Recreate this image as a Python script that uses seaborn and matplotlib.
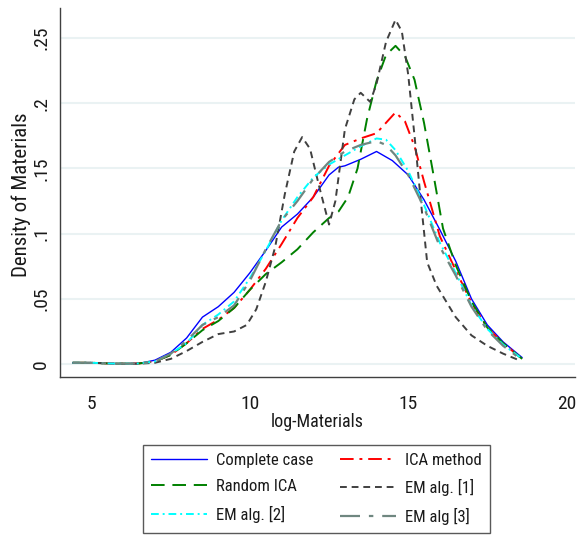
import matplotlib
matplotlib.use("Agg")
import matplotlib.pyplot as plt
import seaborn as sns

sns.set_style("white")
plt.rcParams['font.family'] = ['Roboto Condensed', 'Liberation Sans', 'DejaVu Sans']

# ---- data ----
x_cc = [4.4, 5, 5.5, 6, 6.5, 7, 7.5, 8, 8.5, 9, 9.5, 10, 10.5, 11, 11.5, 12, 12.5, 12.8, 13, 13.5, 14, 14.5, 15, 15.5, 16, 16.5, 17, 17.5, 18, 18.6]
y_cc = [0.001, 0.001, 0.0005, 0.0003, 0.0005, 0.003, 0.009, 0.020, 0.036, 0.044, 0.055, 0.070, 0.087, 0.105, 0.115, 0.128, 0.145, 0.151, 0.152, 0.157, 0.163, 0.156, 0.145, 0.126, 0.103, 0.079, 0.050, 0.030, 0.017, 0.005]

x_ica = [4.4, 5, 5.5, 6, 6.5, 7, 7.5, 8, 8.5, 9, 9.5, 10, 10.5, 11, 11.5, 12, 12.5, 13, 13.5, 14, 14.3, 14.6, 14.9, 15.2, 15.5, 16, 16.5, 17, 17.5, 18, 18.6]
y_ica = [0.001, 0.001, 0.0005, 0.0003, 0.0005, 0.002, 0.007, 0.016, 0.027, 0.034, 0.043, 0.057, 0.073, 0.092, 0.112, 0.128, 0.152, 0.168, 0.173, 0.177, 0.185, 0.193, 0.186, 0.167, 0.140, 0.098, 0.072, 0.047, 0.028, 0.016, 0.004]

x_rica = [4.4, 5, 5.5, 6, 6.5, 7, 7.5, 8, 8.5, 9, 9.5, 10, 10.5, 11, 11.5, 12, 12.5, 12.8, 13.1, 13.4, 13.7, 14, 14.3, 14.6, 14.9, 15.2, 15.5, 15.8, 16.1, 16.5, 17, 17.5, 18, 18.6]
y_rica = [0.001, 0.001, 0.0005, 0.0003, 0.0005, 0.002, 0.007, 0.016, 0.026, 0.033, 0.043, 0.057, 0.069, 0.078, 0.088, 0.101, 0.112, 0.117, 0.128, 0.150, 0.188, 0.217, 0.237, 0.244, 0.236, 0.218, 0.185, 0.145, 0.104, 0.076, 0.048, 0.028, 0.016, 0.004]

x_em1 = [4.4, 5, 5.5, 6, 6.5, 7, 7.5, 8, 8.5, 9, 9.5, 9.9, 10.2, 10.5, 10.8, 11.1, 11.4, 11.65, 11.9, 12.2, 12.5, 12.7, 13.0, 13.3, 13.5, 13.8, 14.0, 14.3, 14.6, 14.8, 15.0, 15.2, 15.4, 15.6, 15.9, 16.2, 16.5, 17, 17.5, 18, 18.5]
y_em1 = [0.001, 0.001, 0.0005, 0.0003, 0.0003, 0.001, 0.004, 0.010, 0.017, 0.023, 0.025, 0.030, 0.042, 0.063, 0.090, 0.130, 0.163, 0.174, 0.165, 0.135, 0.107, 0.125, 0.180, 0.203, 0.208, 0.201, 0.215, 0.247, 0.264, 0.255, 0.222, 0.175, 0.125, 0.078, 0.060, 0.048, 0.036, 0.022, 0.014, 0.008, 0.003]

x_em2 = [4.4, 5, 5.5, 6, 6.5, 7, 7.5, 8, 8.5, 9, 9.5, 10, 10.5, 11, 11.5, 12, 12.5, 13, 13.5, 14, 14.3, 14.6, 15, 15.5, 16, 16.5, 17, 17.5, 18, 18.6]
y_em2 = [0.001, 0.001, 0.0005, 0.0003, 0.0005, 0.002, 0.008, 0.016, 0.030, 0.038, 0.048, 0.066, 0.087, 0.110, 0.128, 0.143, 0.153, 0.160, 0.167, 0.173, 0.172, 0.164, 0.148, 0.122, 0.093, 0.070, 0.045, 0.027, 0.015, 0.004]

x_em3 = [4.4, 5, 5.5, 6, 6.5, 7, 7.5, 8, 8.5, 9, 9.5, 10, 10.5, 11, 11.5, 12, 12.5, 13, 13.5, 14, 14.3, 14.6, 15, 15.5, 16, 16.5, 17, 17.5, 18, 18.6]
y_em3 = [0.001, 0.001, 0.0005, 0.0003, 0.0005, 0.002, 0.008, 0.018, 0.030, 0.036, 0.045, 0.064, 0.088, 0.110, 0.125, 0.142, 0.155, 0.163, 0.168, 0.171, 0.168, 0.160, 0.145, 0.120, 0.090, 0.068, 0.044, 0.026, 0.014, 0.003]

labels = ["Complete case", "ICA method", "Random ICA", "EM alg. [1]", "EM alg. [2]", "EM alg [3]"]
x_ticks = [5, 10, 15, 20]
y_ticks = [0, 0.05, 0.1, 0.15, 0.2, 0.25]
y_ticklabels = ["0", ".05", ".1", ".15", ".2", ".25"]

# ---- figure ----
fig = plt.figure(figsize=(5.82, 5.35), dpi=100)
ax = fig.add_axes([60/582, 1-377/535, (575-60)/582, (377-8)/535])

series = [
    (x_cc, y_cc, labels[0], "#0000FF", "-", 1.0),
    (x_ica, y_ica, labels[1], "#FF0000", (0, (7, 3, 1.5, 3)), 1.4),
    (x_rica, y_rica, labels[2], "#008000", (0, (7, 4)), 1.4),
    (x_em1, y_em1, labels[3], "#404040", (0, (3.5, 2.5)), 1.4),
    (x_em2, y_em2, labels[4], "#00FFFF", (0, (4, 2, 1, 2)), 1.4),
    (x_em3, y_em3, labels[5], "#6F8780", (0, (9, 4, 2, 4)), 1.6),
]

handles = []
for xs, ys, lab, col, ls, lw in series:
    sns.lineplot(x=xs, y=ys, ax=ax, color=col, linewidth=lw, label=lab, sort=False)
    ln = ax.lines[-1]
    ln.set_linestyle(ls)
    handles.append(ln)

ax.set_xlim(4.0, 20.27)
ax.set_ylim(-0.0099, 0.273)
ax.set_xticks(x_ticks)
ax.set_yticks(y_ticks)
ax.set_yticklabels(y_ticklabels, rotation=90, va="center")
ax.tick_params(axis="both", direction="out", length=6, width=1, color="#404040",
               labelsize=14, labelcolor="#1a1a1a")
ax.tick_params(axis="x", pad=7)
ax.tick_params(axis="y", pad=1)

ax.yaxis.grid(True, color="#EAF2F3", linewidth=1.5)
ax.xaxis.grid(False)
ax.set_axisbelow(True)
for s in ["top", "right"]:
    ax.spines[s].set_visible(False)
for s in ["left", "bottom"]:
    ax.spines[s].set_color("#404040")
    ax.spines[s].set_linewidth(1.0)

ax.set_xlabel("log-Materials", fontsize=13, color="#1a1a1a")
ax.xaxis.set_label_coords(0.5, (377 - 413) / 369)
ax.set_ylabel("Density of Materials", fontsize=15, color="#1a1a1a")
ax.yaxis.set_label_coords((31 - 60) / 515, (377 - 195) / 369)

ax.get_legend().remove()
order = [0, 2, 4, 1, 3, 5]
leg = fig.legend([handles[i] for i in order], [labels[i] for i in order],
                 ncol=2, loc="lower center", bbox_to_anchor=(316.5/582, 2/535),
                 borderaxespad=0,
                 frameon=True, fancybox=False, fontsize=12, handlelength=3.35,
                 handletextpad=0.55, columnspacing=1.6, labelspacing=0.68,
                 borderpad=0.5, edgecolor="#303030")
leg.get_frame().set_linewidth(1.0)
for t in leg.get_texts():
    t.set_color("#1a1a1a")

fig.savefig("out.png", dpi=100)
